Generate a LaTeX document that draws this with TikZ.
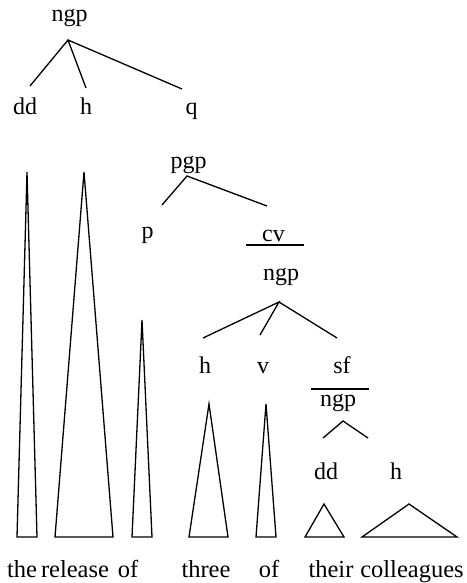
\documentclass[tikz,border=0pt]{standalone}
\usepackage{fontspec}
\setmainfont{Liberation Serif}
\begin{document}
\begin{tikzpicture}[x=1pt,y=-1pt,
  lab/.style={inner sep=0pt, anchor=base, font=\fontsize{24}{28}\selectfont},
  word/.style={inner sep=0pt, anchor=base, font=\fontsize{24.5}{28}\selectfont},
  br/.style={line width=1.3pt},
  tri/.style={line width=1.3pt, line join=miter}]
\useasboundingbox (0,0) rectangle (466,583);
% labels
\node[lab] (ngpA) at (69.5,22) {ngp};
\node[lab] (ddA) at (25,114) {dd};
\node[lab] (hA) at (86,114) {h};
\node[lab] (qA) at (191.5,114) {q};
\node[lab] (pgp) at (188.5,168) {pgp};
\node[lab] (pA) at (147.5,238) {p};
\node[lab] (cv) at (273.5,241) {cv};
\node[lab] (ngpB) at (281,280) {ngp};
\node[lab] (hB) at (205,373) {h};
\node[lab] (vB) at (263,373) {v};
\node[lab] (sf) at (342,373) {sf};
\node[lab] (ngpC) at (338,406) {ngp};
\node[lab] (ddC) at (326,479) {dd};
\node[lab] (hC) at (396,479) {h};
% branch coordinates
\coordinate (a0) at (68,40);
\coordinate (a1) at (30,86);
\coordinate (a2) at (86,88);
\coordinate (a3) at (182,89);
\coordinate (b0) at (187,176);
\coordinate (b1) at (162,205);
\coordinate (b2) at (267,206);
\coordinate (c0) at (279,302);
\coordinate (c1) at (203,338);
\coordinate (c2) at (260,335);
\coordinate (c3) at (337,338);
\coordinate (d0) at (343,421);
\coordinate (d1) at (323,438);
\coordinate (d2) at (368,438);
\draw[br] (a1) -- (a0) -- (a2) (a0) -- (a3);
\draw[br] (b1) -- (b0) -- (b2);
\draw[br] (c1) -- (c0) -- (c2) (c0) -- (c3);
\draw[br] (d1) -- (d0) -- (d2);
% overlines
\draw[br] (246,245) -- (304,245);
\draw[br] (311,389) -- (369,389);
% triangles
\draw[tri] (17,537) -- (27,172) -- (37,537) -- cycle;
\draw[tri] (55,537) -- (84,172) -- (113,537) -- cycle;
\draw[tri] (132,537) -- (142,320) -- (152,537) -- cycle;
\draw[tri] (189,537) -- (209,404) -- (228,537) -- cycle;
\draw[tri] (256,537) -- (266,404) -- (276,537) -- cycle;
\draw[tri] (305,537) -- (324,504) -- (344,537) -- cycle;
\draw[tri] (362,537) -- (409,504) -- (457,537) -- cycle;
% words
\node[word] (w1) at (22,577) {the};
\node[word] (w2) at (75,577) {release};
\node[word] (w3) at (128,577) {of};
\node[word] (w4) at (206,577) {three};
\node[word] (w5) at (269,577) {of};
\node[word] (w6) at (331,577) {their};
\node[word] (w7) at (412,577) {colleagues};
\end{tikzpicture}
\end{document}
